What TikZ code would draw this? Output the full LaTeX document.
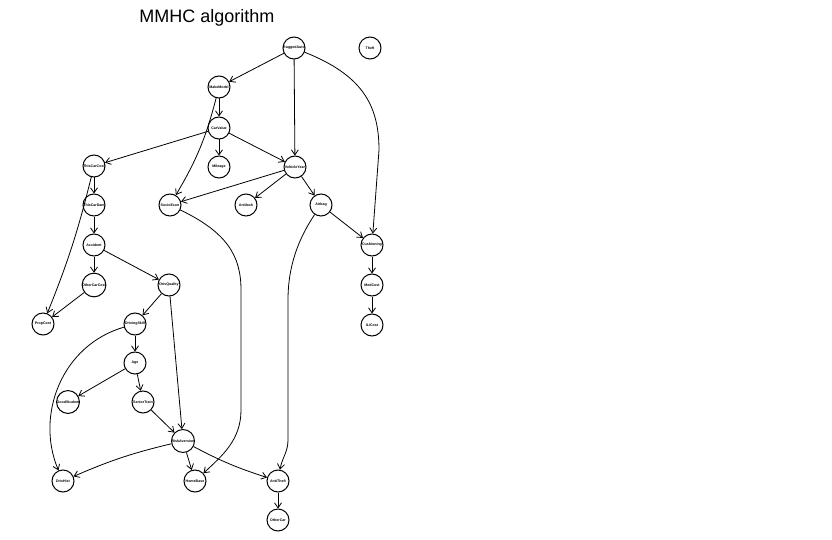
\documentclass[tikz,border=0pt]{standalone}
\usepackage{fontspec}
\setmainfont{Liberation Sans}
\usetikzlibrary{arrows.meta}
\tikzset{
  bnnode/.style={circle, draw, line width=1pt, minimum size=22pt,
                 inner sep=0pt, font=\fontsize{3.6}{4}\selectfont\bfseries},
  arr/.style={-{Straight Barb[length=5pt, width=7pt]}, line width=0.8pt},
  ttl/.style={font=\fontsize{18}{20}\selectfont},
}

\begin{document}
\begin{tikzpicture}[x=1pt, y=-1pt]
  \useasboundingbox (0,0) rectangle (832,540);
  \node[ttl] (title) at (207,18) {MMHC algorithm};

  % nodes
  \node[bnnode] (ruggedauto)   at (294,48)  {RuggedAuto};
  \node[bnnode] (theft)        at (370,48)  {Theft};
  \node[bnnode] (makemodel)    at (219,87)  {MakeModel};
  \node[bnnode] (carvalue)     at (219,128) {CarValue};
  \node[bnnode] (mileage)      at (219,167) {Mileage};
  \node[bnnode] (vehicleyear)  at (295,167) {VehicleYear};
  \node[bnnode] (thiscarcost)  at (94,166)  {ThisCarCost};
  \node[bnnode] (thiscardam)   at (94,205)  {ThisCarDam};
  \node[bnnode] (socioecon)    at (170,205) {SocioEcon};
  \node[bnnode] (antilock)     at (246,205) {Antilock};
  \node[bnnode] (airbag)       at (321,205) {Airbag};
  \node[bnnode] (accident)     at (94,245)  {Accident};
  \node[bnnode] (cushioning)   at (372,245) {Cushioning};
  \node[bnnode] (othercarcost) at (94,285)  {OtherCarCost};
  \node[bnnode] (drivquality)  at (169,285) {DrivQuality};
  \node[bnnode] (medcost)      at (372,285) {MedCost};
  \node[bnnode] (propcost)     at (43,324)  {PropCost};
  \node[bnnode] (drivingskill) at (135,324) {DrivingSkill};
  \node[bnnode] (ilicost)      at (372,325) {ILiCost};
  \node[bnnode] (age)          at (135,363) {Age};
  \node[bnnode] (goodstudent)  at (68,402)  {GoodStudent};
  \node[bnnode] (seniortrain)  at (143,402) {SeniorTrain};
  \node[bnnode] (riskaversion) at (183,441) {RiskAversion};
  \node[bnnode] (drivhist)     at (63,481)  {DrivHist};
  \node[bnnode] (homebase)     at (195,481) {HomeBase};
  \node[bnnode] (antitheft)    at (278,481) {AntiTheft};
  \node[bnnode] (othercar)     at (278,520) {OtherCar};

  % arcs
  \draw[arr] (ruggedauto) -- (makemodel);
  \draw[arr] (ruggedauto) -- (vehicleyear);
  \draw[arr] (ruggedauto) .. controls (362,75) and (379,105) .. (379,150) -- (cushioning);
  \draw[arr] (makemodel) -- (carvalue);
  \draw[arr] (makemodel) to[bend left=8] (socioecon);
  \draw[arr] (carvalue) -- (mileage);
  \draw[arr] (carvalue) -- (thiscarcost);
  \draw[arr] (carvalue) -- (vehicleyear);
  \draw[arr] (vehicleyear) -- (socioecon);
  \draw[arr] (vehicleyear) -- (antilock);
  \draw[arr] (vehicleyear) -- (airbag);
  \draw[arr] (airbag) -- (cushioning);
  \draw[arr] (airbag) .. controls (299,238) and (288,265) .. (288,300)
             -- (288,440) to[out=-90, in=80] (antitheft);
  \draw[arr] (socioecon) .. controls (226,232) and (241,255) .. (241,290)
             -- (241,410) .. controls (241,440) and (222,456) .. (homebase);
  \draw[arr] (thiscarcost) -- (thiscardam);
  \draw[arr] (thiscarcost) to[bend left=4] (propcost);
  \draw[arr] (thiscardam) -- (accident);
  \draw[arr] (accident) -- (othercarcost);
  \draw[arr] (accident) -- (drivquality);
  \draw[arr] (othercarcost) -- (propcost);
  \draw[arr] (drivquality) -- (drivingskill);
  \draw[arr] (drivquality) -- (riskaversion);
  \draw[arr] (drivingskill) -- (age);
  \draw[arr] (drivingskill) .. controls (62,345) and (35,415) .. (drivhist);
  \draw[arr] (age) -- (goodstudent);
  \draw[arr] (age) -- (seniortrain);
  \draw[arr] (seniortrain) -- (riskaversion);
  \draw[arr] (riskaversion) to[bend right=5] (drivhist);
  \draw[arr] (riskaversion) -- (homebase);
  \draw[arr] (riskaversion) to[bend right=5] (antitheft);
  \draw[arr] (antitheft) -- (othercar);
  \draw[arr] (cushioning) -- (medcost);
  \draw[arr] (medcost) -- (ilicost);
\end{tikzpicture}
\end{document}
